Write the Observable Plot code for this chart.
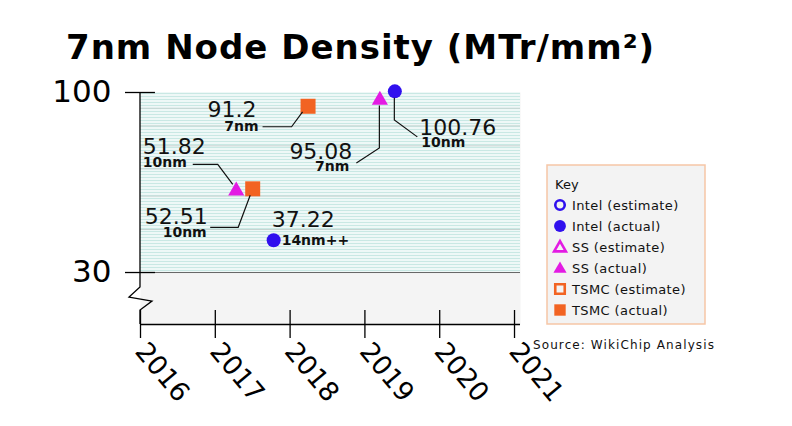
<!DOCTYPE html>
<html>
<head>
<meta charset="utf-8">
<script src="https://cdn.jsdelivr.net/npm/d3@7"></script>
<script src="https://cdn.jsdelivr.net/npm/@observablehq/plot@0.6"></script>
<style>
  body { margin: 0; background: #fff; }
  #wrap { position: relative; width: 792px; height: 426px; overflow: hidden; }
  #wrap svg { display: block; }
</style>
</head>
<body>
<div id="wrap"></div>
<script>
// ---- data ----
const companies = ["Intel", "Intel", "SS", "SS", "TSMC", "TSMC"];
const years     = [2017.78, 2019.4, 2017.28, 2019.2, 2017.5, 2018.24];
const densities = [37.22, 100.76, 51.82, 95.08, 52.51, 91.2];
const nodes     = ["14nm++", "10nm", "10nm", "7nm", "10nm", "7nm"];
const valueLabels = ["37.22", "100.76", "51.82", "95.08", "52.51", "91.2"];
const yearTicks = [2016, 2017, 2018, 2019, 2020, 2021];
const densityTicks = [30, 100];
const gridTicks = [40, 50, 60, 70, 80, 90];
const legendLabels = ["Intel (estimate)", "Intel (actual)", "SS (estimate)", "SS (actual)", "TSMC (estimate)", "TSMC (actual)"];
const legendCompanies = ["Intel", "Intel", "SS", "SS", "TSMC", "TSMC"];
const legendFilled = [false, true, false, true, false, true];
const titleText = "7nm Node Density (MTr/mm²)";
const sourceText = "Source: WikiChip Analysis";

// ---- styling ----
const colors = { Intel: "#3010ee", SS: "#e31be3", TSMC: "#f26322" };
const symbols = { Intel: "circle", SS: "triangle", TSMC: "square" };
const radii = { Intel: 7, SS: 6, TSMC: 8.46 };
const xDomain = [2016, 2021.08];
const yDomain = [21.19, 100];

// annotation layout: pixel offsets relative to each point
const layout = [
  { v: [-1.5, -12.6, "start"], n: [8.5, 5.5, "start"], leader: null },
  { v: [25, 44, "start"], n: [27, 56, "start"], leader: [[0, 7], [0, 29], [23, 46]] },
  { v: [-93, -36, "start"], n: [-93, -23, "start"], leader: [[-3, -6], [-18, -26], [-43, -26]] },
  { v: [-27, 59.5, "end"], n: [-30, 71.5, "end"], leader: [[0, 6], [0, 48.5], [-23, 63.5]] },
  { v: [-44.5, 36, "end"], n: [-45.5, 49, "end"], leader: [[-2, 7], [-14, 39], [-42, 39]] },
  { v: [-51, 11.5, "end"], n: [-49, 25.5, "end"], leader: [[-5, 6], [-16, 21], [-45, 21]] }
];

const rows = companies.map((c, i) => ({ company: c, year: years[i], density: densities[i], node: nodes[i], value: valueLabels[i] }));

const dotMarks = Object.keys(colors).map(c =>
  Plot.dot(rows.filter(d => d.company === c), {
    x: "year", y: "density", symbol: symbols[c], r: radii[c], fill: colors[c], stroke: "none"
  })
);

const plot = Plot.plot({
  width: 792,
  height: 426,
  marginLeft: 140,
  marginRight: 272,
  marginTop: 92,
  marginBottom: 102,
  style: { fontFamily: "DejaVu Sans", color: "#000", background: "#fff", overflow: "visible" },
  x: { domain: xDomain, label: null },
  y: { type: "log", domain: yDomain, label: null },
  marks: [
    Plot.frame({ fill: "#f4f4f4", stroke: "none" }),
    Plot.rect([null], { x1: xDomain[0], x2: xDomain[1], y1: densityTicks[0], y2: densityTicks[1], fill: "url(#stripes)" }),
    Plot.ruleY(gridTicks, { stroke: "#c6d3d1", strokeWidth: 1 }),
    Plot.ruleY([densityTicks[0]], { stroke: "#666", strokeWidth: 1 }),
    Plot.ruleY([yDomain[0]], { stroke: "#000", strokeWidth: 1.3 }),
    Plot.ruleY(densityTicks, { x1: xDomain[0], x2: xDomain[0] + 0.2, stroke: "#000", strokeWidth: 1.3 }),
    Plot.ruleX(yearTicks, { insetTop: 218, stroke: "#000", strokeWidth: 1.3 }),
    Plot.axisY({ ticks: densityTicks, tickSize: 15, tickPadding: 14, fontSize: 31, tickFormat: d => String(d), strokeWidth: 1.3 }),
    Plot.axisX({ ticks: yearTicks, tickSize: 14, tickPadding: 8, fontSize: 26.5, tickRotate: 50, tickFormat: d => String(d), strokeWidth: 1.3 }),
    ...dotMarks
  ]
});

document.getElementById("wrap").appendChild(plot);

// ---- overlays drawn through the plot's scales ----
const svg = d3.select(plot);
const X = v => plot.scale("x").apply(v);
const Y = v => plot.scale("y").apply(v);

// stripe pattern for the main band
const defs = svg.insert("defs", ":first-child");
const pat = defs.append("pattern").attr("id", "stripes").attr("patternUnits", "userSpaceOnUse")
  .attr("width", 8).attr("height", 3);
pat.append("rect").attr("width", 8).attr("height", 3).attr("fill", "#eef8f7");
pat.append("rect").attr("width", 8).attr("height", 1).attr("fill", "#c9e8e4");

// y-axis line with break mark
const x0 = X(xDomain[0]);
const yTop = Y(densityTicks[1]);
const yBot = Y(yDomain[0]);
const bk = Y(densityTicks[0]) + 15;
svg.append("path")
  .attr("d", `M${x0},${yTop}V${bk}L${x0 - 11},${bk + 10}L${x0 + 12},${bk + 14}L${x0},${bk + 23}V${yBot}`)
  .attr("fill", "none").attr("stroke", "#000").attr("stroke-width", 1.3);

// annotations
const ann = svg.append("g").attr("font-family", "DejaVu Sans").attr("fill", "#111").attr("text-anchor", "start");
rows.forEach((d, i) => {
  const px = X(d.year), py = Y(d.density), L = layout[i];
  if (L.leader) {
    ann.append("path")
      .attr("d", "M" + L.leader.map(([dx, dy]) => `${px + dx},${py + dy}`).join("L"))
      .attr("fill", "none").attr("stroke", "#111").attr("stroke-width", 1.2);
  }
  ann.append("text").attr("x", px + L.v[0]).attr("y", py + L.v[1]).attr("text-anchor", L.v[2])
    .attr("font-size", 22).text(d.value);
  ann.append("text").attr("x", px + L.n[0]).attr("y", py + L.n[1]).attr("text-anchor", L.n[2])
    .attr("font-size", 14).attr("font-weight", "bold").text(d.node);
});

// title
svg.append("text").attr("x", 66).attr("y", 59).attr("font-family", "DejaVu Sans")
  .attr("text-anchor", "start")
  .attr("font-weight", "bold").attr("font-size", 34).attr("letter-spacing", 1.0)
  .attr("fill", "#000").text(titleText);

// legend
const lg = svg.append("g").attr("font-family", "DejaVu Sans").attr("text-anchor", "start");
lg.append("rect").attr("x", 547).attr("y", 165).attr("width", 158).attr("height", 159)
  .attr("fill", "#f3f3f3").attr("stroke", "#f6c6a6").attr("stroke-width", 1.5);
lg.append("text").attr("x", 555).attr("y", 189).attr("font-size", 13).attr("fill", "#111").text("Key");
const symGen = { circle: d3.symbolCircle, triangle: d3.symbolTriangle, square: d3.symbolSquare };
legendLabels.forEach((lab, i) => {
  const cy = 205 + i * 21;
  const c = legendCompanies[i];
  const filled = legendFilled[i];
  const size = c === "Intel" ? (filled ? 110 : 70) : c === "SS" ? (filled ? 75 : 60) : (filled ? 130 : 90);
  lg.append("path")
    .attr("transform", `translate(560,${cy + (c === "SS" ? 1 : 0)})`)
    .attr("d", d3.symbol(symGen[symbols[c]], size)())
    .attr("fill", filled ? colors[c] : "none")
    .attr("stroke", filled ? "none" : colors[c])
    .attr("stroke-width", 2.6);
  lg.append("text").attr("x", 572).attr("y", cy + 5).attr("font-size", 13)
    .attr("letter-spacing", 0.4).attr("fill", "#111").text(lab);
});

// source
svg.append("text").attr("x", 533).attr("y", 349).attr("font-family", "DejaVu Sans")
  .attr("text-anchor", "start")
  .attr("font-size", 12).attr("letter-spacing", 1.1).attr("fill", "#111").text(sourceText);
</script>
</body>
</html>
